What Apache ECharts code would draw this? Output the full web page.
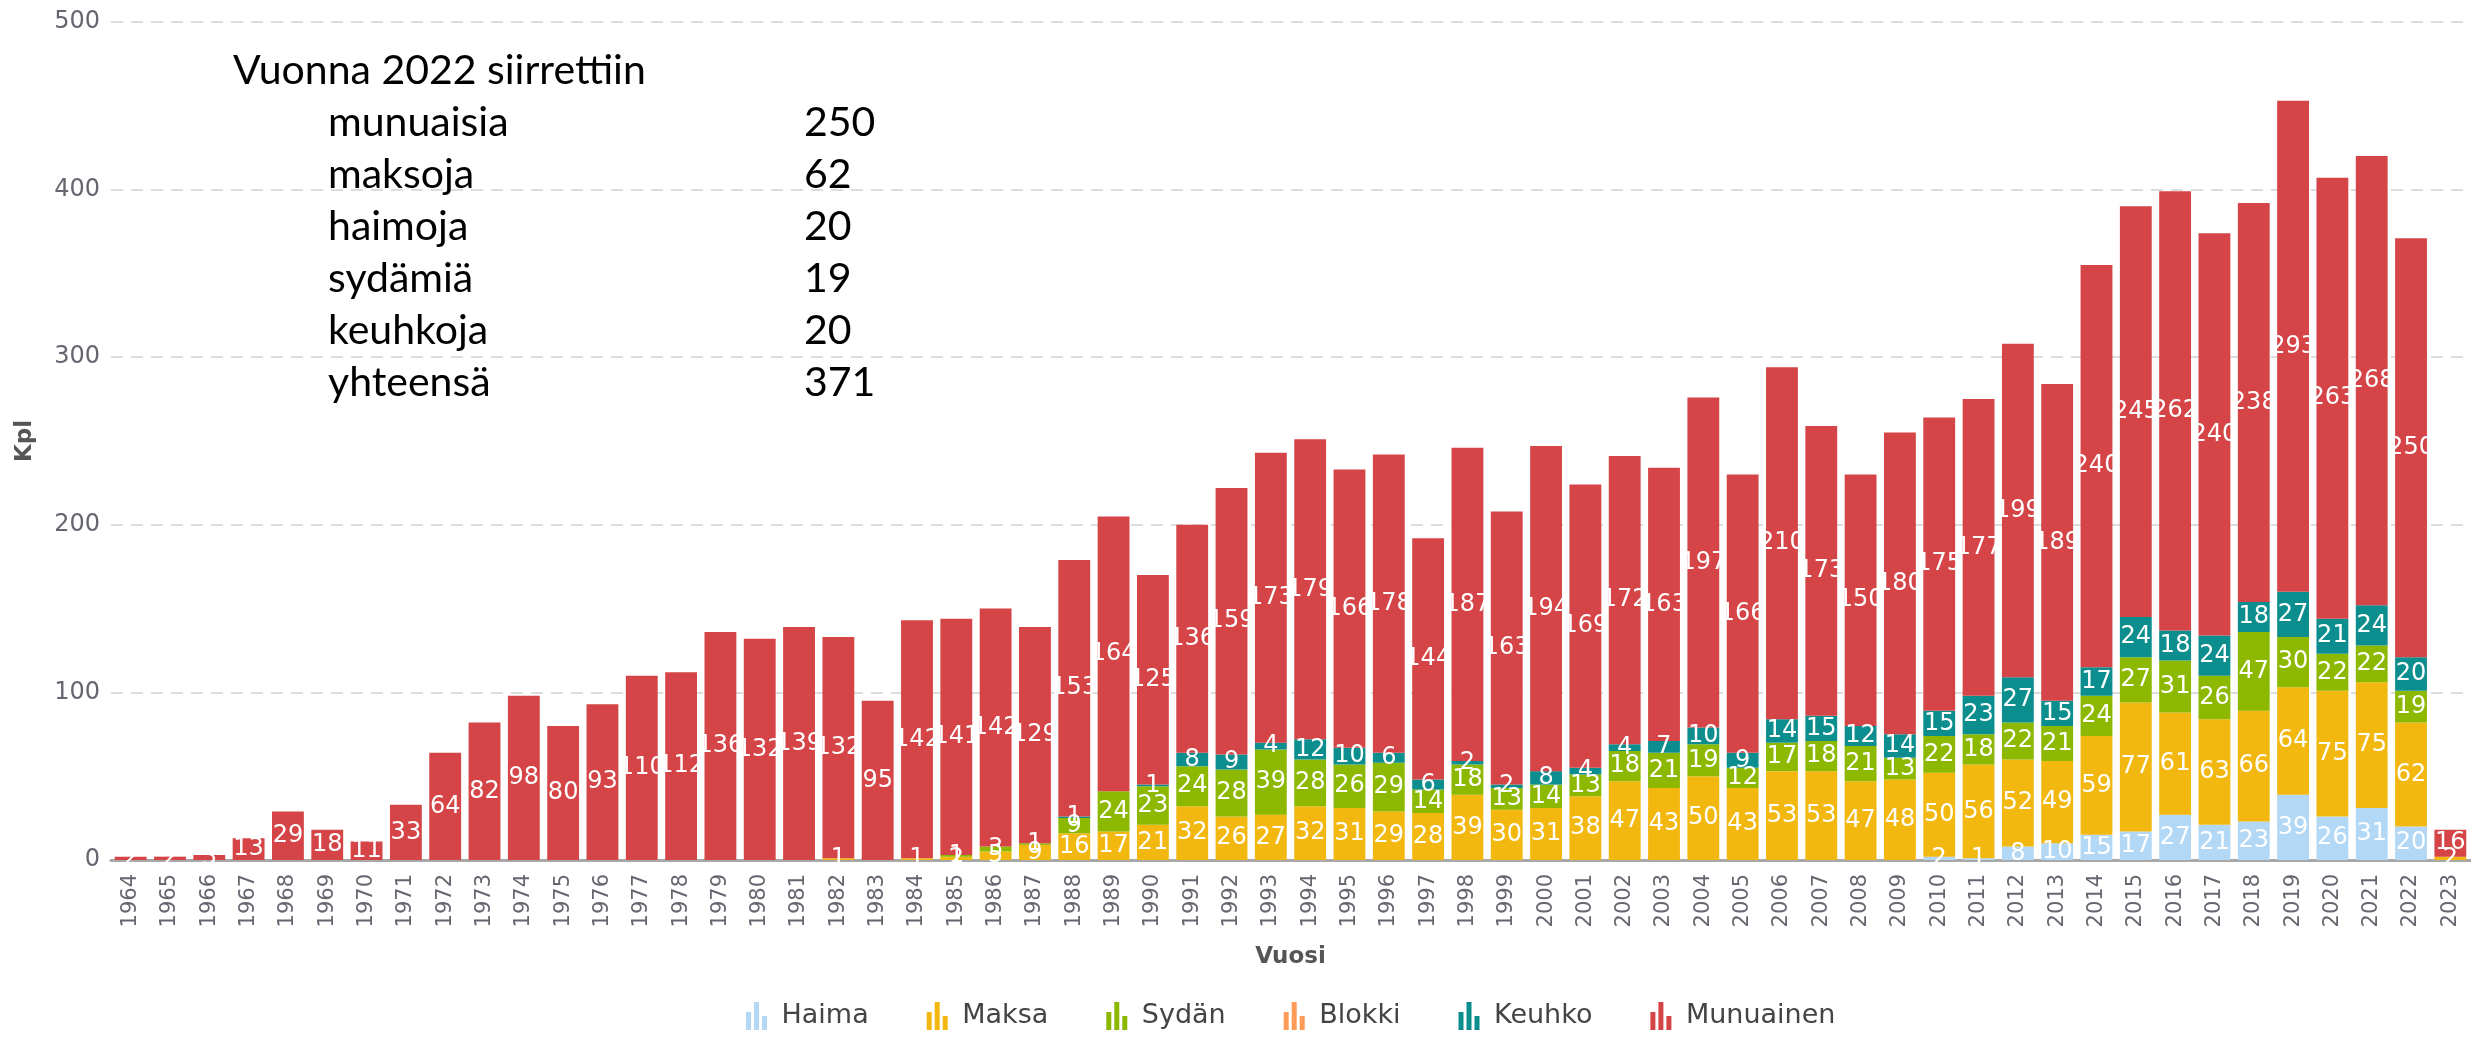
<!DOCTYPE html>
<html>
<head>
<meta charset="utf-8">
<script src="https://cdn.jsdelivr.net/npm/echarts@6/dist/echarts.min.js"></script>
<style>
  html, body { margin: 0; padding: 0; background: #fff; }
  #main { width: 2471px; height: 1037px; }
</style>
</head>
<body>
<div id="main"></div>
<script>
const years = [];
for (let y = 1964; y <= 2023; y++) years.push(String(y));

// 1964 ... 2023
const haima = [0,0,0,0,0,0,0,0,0,0, 0,0,0,0,0,0,0,0,0,0, 0,0,0,0,0,0,0,0,0,0, 0,0,0,0,0,0,0,0,0,0, 0,0,0,0,0,0,2,1,8,10, 15,17,27,21,23,39,26,31,20,0];
const maksa = [0,0,0,0,0,0,0,0,0,0, 0,0,0,0,0,0,0,0,1,0, 1,2,5,9,16,17,21,32,26,27, 32,31,29,28,39,30,31,38,47,43, 50,43,53,53,47,48,50,56,52,49, 59,77,61,63,66,64,75,75,62,2];
const sydan = [0,0,0,0,0,0,0,0,0,0, 0,0,0,0,0,0,0,0,0,0, 0,1,3,1,9,24,23,24,28,39, 28,26,29,14,18,13,14,13,18,21, 19,12,17,18,21,13,22,18,22,21, 24,27,31,26,47,30,22,22,19,0];
const blokki = [0,0,0,0,0,0,0,0,0,0, 0,0,0,0,0,0,0,0,0,0, 0,0,0,0,0,0,0,0,0,0, 0,0,0,0,0,0,0,0,0,0, 0,0,0,0,0,0,0,0,0,0, 0,0,0,0,0,0,0,0,0,0];
const keuhko = [0,0,0,0,0,0,0,0,0,0, 0,0,0,0,0,0,0,0,0,0, 0,0,0,0,1,0,1,8,9,4, 12,10,6,6,2,2,8,4,4,7, 10,9,14,15,12,14,15,23,27,15, 17,24,18,24,18,27,21,24,20,0];
const munuainen = [2,2,3,13,29,18,11,33,64,82, 98,80,93,110,112,136,132,139,132,95, 142,141,142,129,153,164,125,136,159,173, 179,166,178,144,187,163,194,169,172,163, 197,166,210,173,150,180,175,177,199,189, 240,245,262,240,238,293,263,268,250,16];

const noteTitle = 'Vuonna 2022 siirrettiin';
const noteNames = ['munuaisia', 'maksoja', 'haimoja', 'sydämiä', 'keuhkoja', 'yhteensä'];
const noteValues = ['250', '62', '20', '19', '20', '371'];

const seriesDefs = [
  { name: 'Haima', data: haima, color: '#b2d8f5' },
  { name: 'Maksa', data: maksa, color: '#f3b80f' },
  { name: 'Sydän', data: sydan, color: '#8cb900' },
  { name: 'Blokki', data: blokki, color: '#ff9a57' },
  { name: 'Keuhko', data: keuhko, color: '#0c8e8e' },
  { name: 'Munuainen', data: munuainen, color: '#d54446' }
];

const barIcon = 'path://M0,10h5v18h-5z M8,0h5v28h-5z M16,14h5v14h-5z';

const chart = echarts.init(document.getElementById('main'));

const graphics = [{
  type: 'text', left: 233, top: 50,
  style: { text: noteTitle, font: '41px Lato', fill: '#000' }
}];
noteNames.forEach(function (n, i) {
  graphics.push({ type: 'text', left: 328, top: 102 + i * 52, style: { text: n, font: '41px Lato', fill: '#000' } });
  graphics.push({ type: 'text', left: 804, top: 102 + i * 52, style: { text: noteValues[i], font: '41px Lato', fill: '#000' } });
});

chart.setOption({
  animation: false,
  textStyle: { fontFamily: 'DejaVu Sans' },
  grid: { left: 111, right: 1, top: 22, bottom: 177 },
  legend: {
    bottom: 2,
    left: 741,
    icon: barIcon,
    itemWidth: 24,
    itemHeight: 28,
    itemGap: 58,
    textStyle: { fontSize: 27, color: '#444', fontFamily: 'DejaVu Sans', padding: [0, 0, 0, 8] },
    data: seriesDefs.map(function (s) { return s.name; })
  },
  xAxis: {
    type: 'category',
    data: years,
    name: 'Vuosi',
    nameLocation: 'middle',
    nameGap: 86,
    nameTextStyle: { fontSize: 23, fontWeight: 'bold', color: '#555' },
    axisLine: { lineStyle: { color: '#a8a8a8', width: 3 } },
    axisTick: { show: false },
    axisLabel: { rotate: 90, fontSize: 21, color: '#666670', margin: 14, interval: 0 }
  },
  yAxis: {
    type: 'value',
    min: 0, max: 500, interval: 100,
    name: 'Kpl',
    nameLocation: 'middle',
    nameGap: 74,
    nameTextStyle: { fontSize: 23, fontWeight: 'bold', color: '#555' },
    axisLine: { show: false },
    axisTick: { show: false },
    axisLabel: { fontSize: 24, color: '#666670', margin: 11 },
    splitLine: { lineStyle: { color: '#dcdcdc', type: [12, 8], width: 2 } }
  },
  series: seriesDefs.map(function (s) {
    return {
      name: s.name,
      type: 'bar',
      stack: 'total',
      barCategoryGap: '19%',
      itemStyle: { color: s.color },
      label: {
        show: true,
        position: 'inside',
        color: '#fff',
        fontSize: 24,
        fontFamily: 'DejaVu Sans',
        textShadowColor: 'rgba(240,170,0,0.55)',
        textShadowOffsetX: 1.5,
        formatter: function (p) { return p.value > 0 ? p.value : ''; }
      },
      data: s.data
    };
  }),
  graphic: graphics
});
</script>
</body>
</html>
